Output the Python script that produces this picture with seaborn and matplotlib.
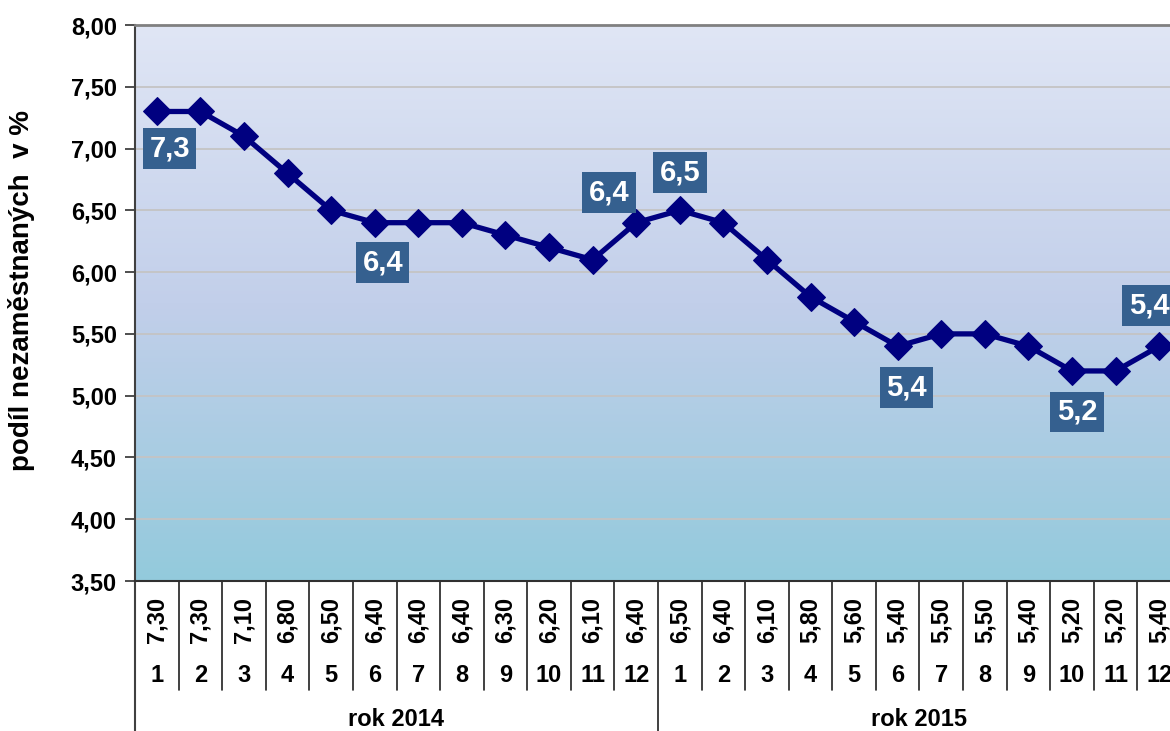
import numpy as np
import pandas as pd
import seaborn as sns
import matplotlib.pyplot as plt
from matplotlib.colors import LinearSegmentedColormap

# ── data ───────────────────────────────────────────────────────
months = [1, 2, 3, 4, 5, 6, 7, 8, 9, 10, 11, 12,
          1, 2, 3, 4, 5, 6, 7, 8, 9, 10, 11, 12]
rate = [7.3, 7.3, 7.1, 6.8, 6.5, 6.4, 6.4, 6.4, 6.3, 6.2, 6.1, 6.4,
        6.5, 6.4, 6.1, 5.8, 5.6, 5.4, 5.5, 5.5, 5.4, 5.2, 5.2, 5.4]
years = ['rok 2014', 'rok 2015']
y_ticks = [3.5, 4.0, 4.5, 5.0, 5.5, 6.0, 6.5, 7.0, 7.5, 8.0]
labelled = [0, 5, 11, 12, 17, 21, 23]
ylabel = 'podíl nezaměstnaných  v %'

# label box offsets in pixels (x right, y up)
offsets = {0: (13, -37), 5: (8, -40), 11: (-27, 30), 12: (0, 38),
           17: (9, -41), 21: (5, -41), 23: (-10, 41)}

df = pd.DataFrame({'idx': range(len(rate)), 'rate': rate})

sns.set_style('white')
plt.rcParams['font.family'] = ['Liberation Sans', 'DejaVu Sans']
plt.rcParams['font.weight'] = 'bold'
plt.rcParams['text.color'] = 'black'
plt.rcParams['axes.labelcolor'] = 'black'
plt.rcParams['ytick.color'] = 'black'

W, H = 1170, 731
fig = plt.figure(figsize=(W / 100, H / 100), dpi=100)
ax = fig.add_axes([135 / W, 150 / H, (1181 - 135) / W, 556 / H])

ax.set_xlim(-0.5, len(rate) - 0.5)
ax.set_ylim(3.5, 8.0)

# gradient background
cmap = LinearSegmentedColormap.from_list(
    'bg', ['#93CADC', '#C2CFEA', '#E0E6F5'])
grad = np.linspace(0, 1, 256).reshape(-1, 1)
ax.imshow(grad, cmap=cmap, origin='lower', aspect='auto',
          extent=[-0.5, len(rate) - 0.5, 3.5, 8.0], zorder=0)

for yv in y_ticks[1:-1]:
    ax.axhline(yv, color='#C4C4C4', lw=1.3, zorder=1)

sns.lineplot(data=df, x='idx', y='rate', ax=ax, color='#000080',
             lw=3.8, marker='D', markersize=14, markeredgecolor='#000080',
             zorder=3)

for i in labelled:
    dx, dy = offsets[i]
    ax.annotate(f'{rate[i]:.1f}'.replace('.', ','), xy=(i, rate[i]),
                xytext=(dx, dy), textcoords='offset pixels',
                ha='center', va='center', color='white', fontsize=21,
                fontweight='bold', zorder=4,
                bbox=dict(boxstyle='square,pad=0.22', fc='#35608F', ec='none'))

# axes styling
ax.set_yticks(y_ticks)
ax.set_yticklabels([f'{v:.2f}'.replace('.', ',') for v in y_ticks],
                   fontsize=17, fontweight='bold', color='black')
ax.tick_params(axis='y', direction='out', length=7, width=1.3,
               color='#404040', left=True, pad=6)
ax.set_xticks([])
ax.set_xlabel('')
ax.set_ylabel(ylabel, fontsize=20, fontweight='bold', color='black')
ax.yaxis.set_label_coords(-0.096, 0.523)
ax.spines['top'].set_color('#808080')
ax.spines['top'].set_linewidth(2)
ax.spines['left'].set_color('#404040')
ax.spines['left'].set_linewidth(1.5)
ax.spines['bottom'].set_color('#303030')
ax.spines['bottom'].set_linewidth(1.5)
ax.spines['right'].set_visible(False)

# data table under the axis
tr = ax.get_xaxis_transform()
for i, (m, v) in enumerate(zip(months, rate)):
    ax.text(i, -0.070, f'{v:.2f}'.replace('.', ','), transform=tr,
            rotation=90, ha='center', va='center', fontsize=17,
            fontweight='bold', color='black')
    ax.text(i, -0.170, str(m), transform=tr, ha='center', va='center',
            fontsize=17, fontweight='bold', color='black')

for k in range(1, len(rate)):
    bottom = -0.28 if k == 12 else -0.196
    ax.plot([k - 0.5, k - 0.5], [0, bottom], transform=tr, color='#202020',
            lw=1.2, clip_on=False)
ax.plot([-0.5, -0.5], [0, -0.28], transform=tr, color='#404040', lw=1.5,
        clip_on=False)

for j, yr in enumerate(years):
    ax.text(5.5 + 12 * j, -0.250, yr, transform=tr, ha='center',
            va='center', fontsize=17, fontweight='bold', color='black')

fig.savefig('out.png', dpi=100)
